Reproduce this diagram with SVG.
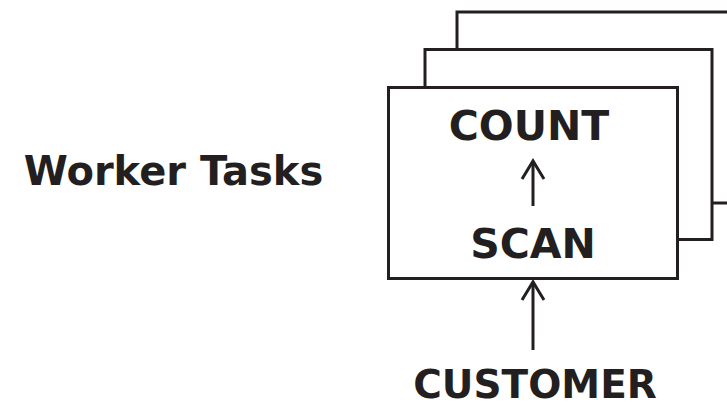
<svg xmlns="http://www.w3.org/2000/svg" width="727" height="405" viewBox="0 0 727 405">
<style>
.t{font-family:"DejaVu Sans","Liberation Sans",sans-serif;font-weight:bold;fill:#231f20;text-anchor:middle}
.b{fill:none;stroke:#231f20;stroke-width:3}
.c{fill:none;stroke:#231f20;stroke-width:3}
</style>
<defs>
<marker id="ah" viewBox="0 0 24 26" refX="21" refY="13" markerWidth="24" markerHeight="26" markerUnits="userSpaceOnUse" orient="auto">
<path d="M3,2 L21,13 L3,24" fill="none" stroke="#231f20" stroke-width="3"/>
</marker>
</defs>
<g id="back">
<polyline class="b" points="457,49.5 457,12 730,12"/>
<line class="b" x1="712" y1="203" x2="730" y2="203"/>
</g>
<g id="middle">
<polyline class="b" points="425,87.5 425,49.5 712,49.5 712,239.5 677,239.5"/>
</g>
<g id="front">
<rect class="b" x="388.5" y="87.5" width="289" height="191" fill="#fff"/>
</g>
<g id="count"><text class="t" x="529" y="140" font-size="41">COUNT</text></g>
<g id="scan"><text class="t" x="533" y="258" font-size="41">SCAN</text></g>
<g id="customer"><text class="t" x="535" y="398" font-size="39">CUSTOMER</text></g>
<g id="label"><text class="t" x="173.5" y="185" font-size="40">Worker Tasks</text></g>
<g id="connectors">
<line class="c" x1="533" y1="206" x2="533" y2="161" marker-end="url(#ah)"/>
<line class="c" x1="533" y1="350" x2="533" y2="282" marker-end="url(#ah)"/>
</g>
</svg>
